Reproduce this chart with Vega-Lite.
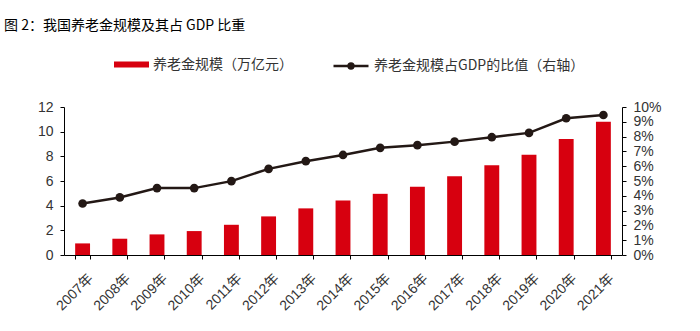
{
  "$schema": "https://vega.github.io/schema/vega-lite/v6.json",
  "width": 558,
  "height": 148,
  "autosize": {"type": "none"},
  "padding": {"left": 64, "top": 107, "right": 78, "bottom": 76},
  "background": "white",
  "title": {
    "text": "图 2：我国养老金规模及其占 GDP 比重",
    "anchor": "start",
    "frame": "group",
    "dx": -60,
    "offset": 14,
    "font": "Noto Sans CJK SC",
    "fontSize": 14,
    "fontWeight": "normal",
    "color": "#000000"
  },
  "config": {
    "view": {"stroke": null},
    "font": "Liberation Sans, Noto Sans CJK SC",
    "axis": {
      "grid": false,
      "domainColor": "#000000",
      "tickColor": "#000000",
      "domainWidth": 1,
      "tickWidth": 1,
      "tickSize": 4,
      "labelColor": "#333333",
      "labelFont": "Liberation Sans, Noto Sans CJK SC",
      "title": null
    },
    "legend": {
      "labelFont": "Noto Sans CJK SC",
      "labelFontSize": 14,
      "labelColor": "#333333",
      "labelLimit": 0
    }
  },
  "data": {
    "values": [
      {"year": "2007年", "scale": 0.94, "ratio": 0.0348},
      {"year": "2008年", "scale": 1.32, "ratio": 0.0389},
      {"year": "2009年", "scale": 1.67, "ratio": 0.0452},
      {"year": "2010年", "scale": 1.94, "ratio": 0.0452},
      {"year": "2011年", "scale": 2.45, "ratio": 0.0499},
      {"year": "2012年", "scale": 3.13, "ratio": 0.0582},
      {"year": "2013年", "scale": 3.78, "ratio": 0.0634},
      {"year": "2014年", "scale": 4.42, "ratio": 0.0676},
      {"year": "2015年", "scale": 4.96, "ratio": 0.0724},
      {"year": "2016年", "scale": 5.53, "ratio": 0.0742},
      {"year": "2017年", "scale": 6.39, "ratio": 0.0766},
      {"year": "2018年", "scale": 7.28, "ratio": 0.0796},
      {"year": "2019年", "scale": 8.12, "ratio": 0.0825},
      {"year": "2020年", "scale": 9.41, "ratio": 0.0924},
      {"year": "2021年", "scale": 10.81, "ratio": 0.0946}
    ]
  },
  "encoding": {
    "x": {
      "field": "year",
      "type": "ordinal",
      "sort": null,
      "scale": {"paddingInner": 0.6, "paddingOuter": 0.3},
      "axis": {
        "labelAngle": -45,
        "labelFontSize": 14,
        "tickBand": "extent",
        "labelPadding": 12,
        "labelOffset": 3
      }
    }
  },
  "layer": [
    {
      "mark": {"type": "bar", "color": "#d7000f"},
      "encoding": {
        "y": {
          "field": "scale",
          "type": "quantitative",
          "scale": {"domain": [0, 12], "nice": false},
          "axis": {
            "values": [0, 2, 4, 6, 8, 10, 12],
            "labelFontSize": 14,
            "labelPadding": 7
          }
        },
        "color": {
          "datum": "养老金规模（万亿元）",
          "scale": {"range": ["#d7000f"]},
          "legend": {
            "title": null,
            "orient": "none",
            "legendX": 50,
            "legendY": -60,
            "symbolType": "M-1,-0.17H1V0.17H-1Z",
            "symbolSize": 1225,
            "symbolStrokeWidth": 0,
            "symbolFillColor": "#d7000f",
            "labelOffset": 4
          }
        }
      }
    },
    {
      "mark": {
        "type": "line",
        "color": "#231815",
        "strokeWidth": 2.5,
        "point": {"filled": true, "size": 75, "color": "#231815"}
      },
      "encoding": {
        "y": {
          "field": "ratio",
          "type": "quantitative",
          "scale": {"domain": [0, 0.1], "nice": false},
          "axis": {
            "orient": "right",
            "values": [0, 0.01, 0.02, 0.03, 0.04, 0.05, 0.06, 0.07, 0.08, 0.09, 0.1],
            "format": ".0%",
            "labelFontSize": 14,
            "labelPadding": 7
          }
        },
        "color": {
          "datum": "养老金规模占GDP的比值（右轴）",
          "scale": {"range": ["#231815"]},
          "legend": {
            "title": null,
            "orient": "none",
            "legendX": 268,
            "legendY": -60,
            "symbolType": "M-1,0H1M-0.14,0A0.14,0.14 0 1,1 0.14,0A0.14,0.14 0 1,1 -0.14,0Z",
            "symbolSize": 1225,
            "symbolStrokeWidth": 2.5,
            "symbolFillColor": "#231815",
            "symbolStrokeColor": "#231815",
            "labelOffset": 4
          }
        }
      }
    }
  ],
  "resolve": {"scale": {"y": "independent", "color": "independent"}}
}
